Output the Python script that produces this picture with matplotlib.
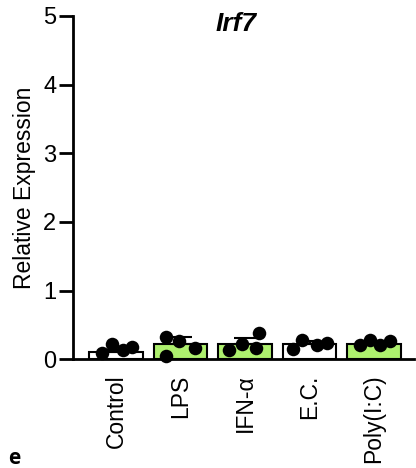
import matplotlib
matplotlib.use("Agg")
import matplotlib.pyplot as plt
import numpy as np

plt.rcParams['font.family'] = ['Liberation Sans', 'DejaVu Sans']

categories = ["Control", "LPS", "IFN-α", "E.C.", "Poly(I:C)"]
bar_means = [0.11, 0.22, 0.23, 0.23, 0.22]
bar_err = [0.03, 0.11, 0.08, 0.03, 0.02]
bar_colors = ["white", "#aef06e", "#aef06e", "white", "#aef06e"]
points = [
    [0.09, 0.22, 0.13, 0.18],
    [0.33, 0.27, 0.05, 0.16],
    [0.14, 0.22, 0.38, 0.16],
    [0.15, 0.28, 0.21, 0.24],
    [0.21, 0.28, 0.21, 0.27],
]
point_offsets = [
    [-0.22, -0.06, 0.11, 0.25],
    [-0.23, -0.02, -0.23, 0.22],
    [-0.25, -0.05, 0.22, 0.17],
    [-0.26, -0.11, 0.11, 0.27],
    [-0.22, -0.06, 0.10, 0.25],
]
yticks = [0, 1, 2, 3, 4, 5]

fig = plt.figure(figsize=(4.16, 4.68), dpi=100)
ax = fig.add_axes([73/416, 1 - 359.3/468, (414-73)/416, (359.3-16)/468])

x = np.arange(len(categories))
ax.bar(x, bar_means, width=0.83, color=bar_colors, edgecolor="black", linewidth=1.5, zorder=2)
ax.errorbar(x, bar_means, yerr=[np.zeros(len(x)), bar_err], fmt="none", ecolor="black",
            elinewidth=1.5, capsize=8, capthick=1.5, zorder=3)
for i, (pts, offs) in enumerate(zip(points, point_offsets)):
    ax.scatter(np.array(offs) + i, pts, s=95, color="black", zorder=4, clip_on=False, linewidths=0)

ax.set_xlim(-0.67, 4.62)
ax.set_ylim(0, 5)
ax.set_yticks(yticks)
ax.set_xticks(x)
ax.set_xticklabels(categories, rotation=90, fontsize=16.5)
ax.tick_params(axis="y", labelsize=17, length=10, width=2, pad=2)
ax.tick_params(axis="x", length=0, pad=11)
for s in ["top", "right"]:
    ax.spines[s].set_visible(False)
for s in ["left", "bottom"]:
    ax.spines[s].set_linewidth(2)
ax.set_ylabel("Relative Expression", fontsize=16.5, labelpad=5)

fig.text(236/416, 1 - 24/468, "Irf7", fontsize=19, fontweight="bold", fontstyle="italic",
         ha="center", va="center")
fig.text(14/416, 1 - 458/468, "e", fontsize=15, fontweight="bold", ha="center", va="center",
         family=["Open Sans", "DejaVu Sans"])

fig.savefig("out.png", dpi=100)
